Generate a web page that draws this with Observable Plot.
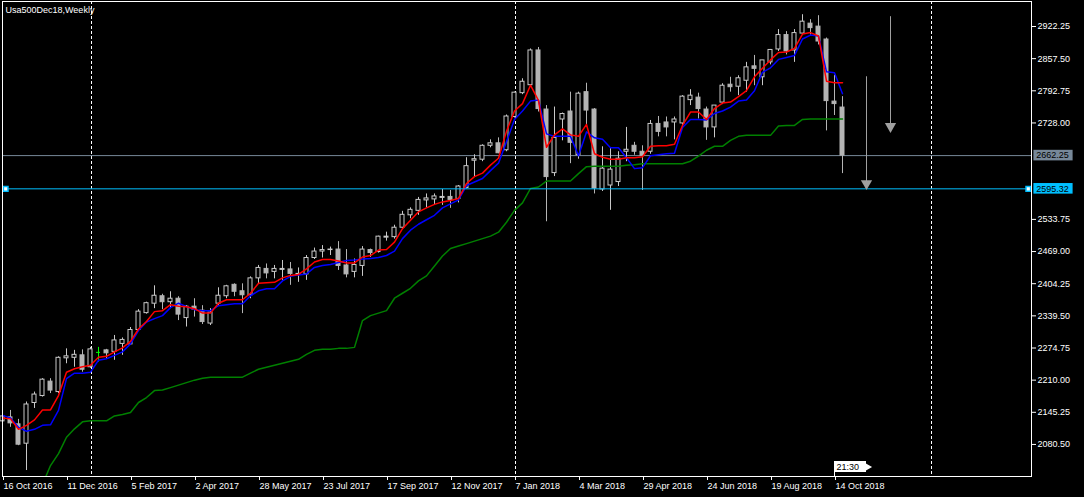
<!DOCTYPE html>
<html><head><meta charset="utf-8">
<script src="https://cdn.jsdelivr.net/npm/d3@7"></script>
<script src="https://cdn.jsdelivr.net/npm/@observablehq/plot@0.6"></script>
<style>html,body{margin:0;padding:0;background:#000;overflow:hidden}</style>
</head><body><div id="chart"></div>
<script>
const symbolTitle = "Usa500Dec18,Weekly";

// weekly candles, index 0 = week of 16 Oct 2016
const open = [
2127,2135,2121,2082,2164,2178,2207,2186,2254,2255,
2260,2236,2266,2270,2267,2283,2282,2311,2345,2364,
2379,2367,2374,2335,2358,2350,2324,2364,2379,2402,
2389,2381,2415,2434,2428,2432,2433,2422,2423,2456,
2469,2472,2473,2441,2428,2440,2472,2468,2497,2498,
2517,2542,2551,2572,2574,2577,2579,2575,2597,2652,
2654,2682,2687,2673,2740,2788,2804,2874,2755,2627,
2735,2751,2663,2790,2755,2594,2602,2609,2670,2682,
2670,2670,2726,2729,2729,2727,2774,2779,2755,2719,
2769,2805,2801,2813,2842,2820,2850,2876,2905,2874,
2908,2928,2922,2896,2771,2759];
const high = [
2145,2149,2131,2166,2186,2213,2213,2257,2273,2270,
2271,2276,2276,2272,2300,2295,2316,2352,2367,2400,
2383,2388,2378,2360,2374,2360,2354,2396,2401,2404,
2404,2418,2441,2444,2441,2451,2447,2436,2461,2476,
2481,2478,2489,2473,2454,2479,2474,2500,2508,2522,
2550,2557,2578,2585,2585,2594,2592,2602,2658,2664,
2684,2694,2698,2744,2790,2817,2877,2880,2763,2760,
2748,2790,2790,2808,2757,2680,2678,2670,2719,2689,
2682,2733,2741,2740,2740,2783,2795,2788,2760,2763,
2807,2820,2823,2850,2864,2854,2876,2916,2912,2916,
2946,2936,2944,2899,2824,2781];
const low = [
2118,2115,2078,2028,2153,2176,2183,2183,2243,2236,
2226,2234,2246,2253,2250,2260,2280,2308,2343,2354,
2352,2354,2330,2317,2337,2322,2320,2360,2374,2378,
2344,2374,2404,2414,2414,2411,2401,2407,2411,2453,
2456,2461,2431,2416,2416,2419,2457,2466,2490,2494,
2515,2535,2542,2557,2562,2562,2556,2567,2595,2619,
2650,2678,2666,2670,2738,2785,2800,2750,2529,2620,
2692,2646,2655,2719,2585,2590,2552,2600,2650,2663,
2592,2665,2700,2700,2694,2720,2763,2736,2693,2698,
2765,2790,2783,2790,2803,2803,2845,2872,2865,2850,
2905,2905,2885,2712,2743,2626];
const close = [
2137,2123,2080,2161,2181,2211,2189,2255,2258,2261,
2231,2272,2266,2264,2290,2291,2311,2348,2365,2380,
2367,2374,2342,2358,2352,2327,2346,2380,2399,2388,
2381,2415,2436,2425,2434,2434,2424,2424,2456,2469,
2472,2473,2440,2423,2442,2473,2466,2499,2499,2517,
2543,2553,2573,2576,2580,2579,2573,2600,2641,2655,
2682,2687,2667,2741,2789,2811,2874,2756,2619,2698,
2746,2688,2787,2753,2596,2636,2634,2656,2674,2670,
2662,2726,2710,2719,2735,2781,2783,2756,2719,2763,
2803,2800,2818,2840,2837,2854,2875,2905,2872,2909,
2932,2919,2892,2772,2766,2662.25];

// indicator lines
const redLine = [
2134,2132,2111,2119,2130,2150,2150,2179,2226,2233,
2237,2240,2256,2258,2267,2275,2288,2313,2328,2348,
2350,2362,2359,2358,2354,2345,2345,2365,2372,2372,
2372,2385,2405,2406,2407,2416,2421,2423,2434,2448,
2453,2453,2450,2446,2446,2458,2461,2472,2473,2488,
2515,2532,2549,2557,2564,2569,2572,2576,2606,2620,
2627,2643,2657,2711,2752,2767,2804,2773,2679,2704,
2716,2704,2701,2725,2666,2659,2655,2655,2658,2658,
2660,2681,2682,2682,2685,2723,2750,2750,2735,2757,
2768,2770,2781,2793,2821,2838,2855,2870,2871,2878,
2907,2910,2903,2812,2809,2809];
const blueLine = [
2139,2134,2115,2107,2111,2119,2120,2149,2213,2224,
2224,2226,2250,2253,2260,2267,2283,2310,2327,2334,
2340,2356,2365,2358,2352,2350,2350,2360,2362,2364,
2364,2380,2390,2394,2394,2410,2419,2422,2424,2437,
2441,2443,2447,2451,2452,2454,2455,2457,2461,2470,
2495,2512,2524,2533,2542,2557,2565,2573,2602,2609,
2616,2632,2647,2690,2735,2752,2772,2774,2706,2701,
2701,2701,2662,2710,2698,2695,2678,2678,2658,2636,
2638,2662,2664,2666,2667,2719,2735,2735,2734,2747,
2752,2760,2772,2774,2793,2830,2839,2856,2860,2864,
2897,2905,2903,2831,2829,2787];
const greenLine = [
null,null,null,null,null,2000,2038,2062,2095,2112,
2126,2128,2128,2128,2138,2141,2145,2165,2175,2189,
2190,2195,2200,2205,2210,2214,2216,2216,2216,2216,
2216,2224,2232,2236,2240,2244,2248,2252,2262,2270,
2272,2272,2274,2274,2276,2330,2340,2345,2350,2375,
2385,2395,2410,2420,2440,2460,2475,2480,2485,2490,
2495,2500,2508,2528,2552,2567,2596,2599,2611,2611,
2611,2611,2626,2640,2641,2641,2641,2641,2643,2644,
2646,2646,2646,2646,2646,2646,2651,2661,2673,2681,
2681,2693,2701,2703,2703,2703,2703,2722,2723,2723,
2735,2736,2736,2736,2736,2736];

const yTicks = [2922.25,2857.50,2792.75,2728.00,2533.75,2469.00,2404.25,2339.50,2274.75,2210.00,2145.25,2080.50];
const xTickIdx = [0,8,16,24,32,40,48,56,64,72,80,88,96,104];
const xTickLabels = ["16 Oct 2016","11 Dec 2016","5 Feb 2017","2 Apr 2017","28 May 2017","23 Jul 2017","17 Sep 2017","12 Nov 2017","7 Jan 2018","4 Mar 2018","29 Apr 2018","24 Jun 2018","19 Aug 2018","14 Oct 2018"];
const separators = [11, 64, 116];
const bidPrice = 2662.25;
const levelPrice = 2595.32;
const arrowIdx = [108, 111];
const arrowTop = [2821, 2942];
const arrowTip = [2596, 2711];
const timerText = "21:30";
const timerIdx = 104;

// ---- layout ----
const W = 1084, H = 497;
const mL = 2, mR = 53, mT = 1, mB = 21;
const pxPerBar = 8;
const xMax = (W - mL - mR) / pxPerBar;
const pxPerPt = 64.75 / 32.15;
const yTopPrice = 2922.25 + 25 * pxPerPt;
const yBotPrice = yTopPrice - (H - mT - mB) * pxPerPt;
const px = p => p * pxPerPt; // pixels -> price units

const bars = open.map((o, i) => ({i, o, h: high[i], l: low[i], c: close[i]}));
const upCol = "#c8c8c8", dnCol = "#b4b4b4", dojiCol = "#00ff00";
const colOf = d => d.c > d.o ? upCol : d.c < d.o ? dnCol : dojiCol;
const series = (arr) => arr.map((v, i) => ({i, v}));
const labelMap = new Map(xTickIdx.map((d, k) => [d, xTickLabels[k]]));
const arrows = arrowIdx.map((x, k) => ({x, top: arrowTop[k], tip: arrowTip[k]}));
const halfBody = 2 / pxPerBar;

const chart = Plot.plot({
  width: W, height: H,
  marginLeft: mL, marginRight: mR, marginTop: mT, marginBottom: mB,
  x: {domain: [0, xMax], axis: null},
  y: {domain: [yBotPrice, yTopPrice], axis: null},
  style: {background: "#000", color: "#fff", fontFamily: "'Liberation Sans', Arial, sans-serif", fontSize: "9px"},
  marks: [
    Plot.ruleX(separators, {stroke: "#fff", strokeDasharray: "3,2", dx: 1}),
    Plot.ruleY([bidPrice], {stroke: "#778899"}),
    Plot.ruleX(bars, {x: "i", y1: "l", y2: "h", stroke: colOf}),
    Plot.rect(bars, {x1: d => d.i - halfBody, x2: d => d.i + halfBody,
      y1: "o", y2: "c",
      fill: d => d.c > d.o ? "#000" : colOf(d), stroke: colOf}),
    Plot.ruleY(bars.filter(d => d.o === d.c), {y: "o", x1: d => d.i - halfBody, x2: d => d.i + halfBody, stroke: dojiCol}),
    Plot.line(series(greenLine), {x: "i", y: "v", stroke: "#008000", clip: true}),
    Plot.line(series(blueLine), {x: "i", y: "v", stroke: "#0000ff"}),
    Plot.line(series(redLine), {x: "i", y: "v", stroke: "#ff0000"}),
    Plot.ruleY([levelPrice], {stroke: "#00bfff"}),
    Plot.dot([0.4, xMax - 0.4], {x: d => d, y: levelPrice, symbol: "square", r: 2.6, fill: "#fff", stroke: "#00bfff"}),
    Plot.ruleX(arrows, {x: "x", y1: "top", y2: "tip", stroke: "#a0a0a0"}),
    Plot.dot(arrows, {x: "x", y: "tip", symbol: "triangle", rotate: 180, r: 4.2, fill: "#a0a0a0", dy: -5}),
    // timer flag
    Plot.rect([timerIdx], {x1: d => d, x2: d => d + 4, y1: yBotPrice + px(4), y2: yBotPrice + px(15), fill: "#fff"}),
    Plot.dot([timerIdx], {x: d => d + 4, y: yBotPrice + px(9.5), symbol: "triangle", rotate: 90, r: 3.6, fill: "#fff"}),
    Plot.ruleX([timerIdx], {y1: yBotPrice, y2: yBotPrice + px(5), stroke: "#fff"}),
    Plot.text([timerText], {x: timerIdx, y: yBotPrice + px(9.5), dx: 2, text: d => d, textAnchor: "start", fill: "#000"}),
    // frame and axes
    Plot.frame({stroke: "#fff"}),
    Plot.axisY(yTicks, {anchor: "right", tickSize: 4, tickPadding: 2, tickFormat: d => d.toFixed(2), stroke: "#fff", fill: "#fff"}),
    Plot.axisX(xTickIdx, {anchor: "bottom", tickSize: 4, tickPadding: 2, textAnchor: "start", dx: 1, tickFormat: d => labelMap.get(d), stroke: "#fff", fill: "#fff"}),
    // price labels on the axis
    Plot.rect([bidPrice], {x1: xMax + 0.3, x2: xMax + 5.2, y1: d => d - px(5.3), y2: d => d + px(5.3), fill: "#778899"}),
    Plot.text([bidPrice], {x: xMax + 0.6, y: d => d, text: d => d.toFixed(2), textAnchor: "start", fill: "#000"}),
    Plot.rect([levelPrice], {x1: xMax + 0.3, x2: xMax + 5.2, y1: d => d - px(5.3), y2: d => d + px(5.3), fill: "#00bfff"}),
    Plot.text([levelPrice], {x: xMax + 0.6, y: d => d, text: d => d.toFixed(2), textAnchor: "start", fill: "#000"}),
    // title
    Plot.text([symbolTitle], {frameAnchor: "top-left", dx: 3, dy: 5, text: d => d, textAnchor: "start", lineAnchor: "top", fill: "#fff"})
  ]
});
document.getElementById("chart").appendChild(chart);
</script>
</body></html>
